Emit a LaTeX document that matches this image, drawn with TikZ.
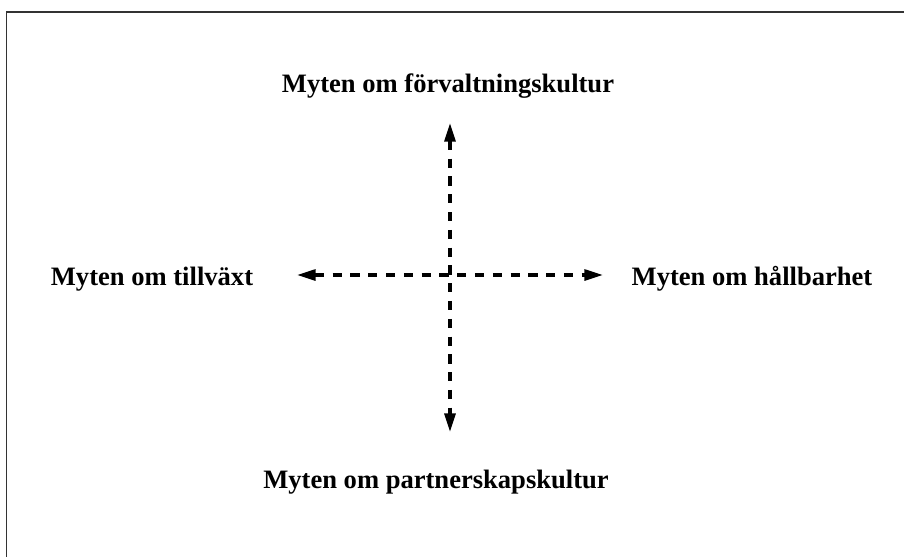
\documentclass[tikz,border=0pt]{standalone}
\usepackage{fontspec}
\setmainfont{Liberation Serif}
\usetikzlibrary{arrows.meta}

\begin{document}
\begin{tikzpicture}[x=0.016cm, y=-0.016cm,
  myth/.style={font=\fontsize{12.1}{14}\selectfont\bfseries, anchor=base, inner sep=0pt},
  arr/.style={{Triangle[length=8.5pt,width=5pt]}-{Triangle[length=8.5pt,width=5pt]},
              line width=1.4pt, dash pattern=on 4.2pt off 3.9pt},
  frame/.style={draw=black!80, line width=0.9pt}]
\useasboundingbox (0,0) rectangle (904,557);
% frame (top and left edge)
\draw[frame] (6.5,557) -- (6.5,12) -- (904,12);
% the four myths
\node[myth] (forv)    at (448,92)  {Myten om förvaltningskultur};
\node[myth] (tillv)   at (152,285) {Myten om tillväxt};
\node[myth] (hallb)   at (752,285) {Myten om hållbarhet};
\node[myth] (partner) at (436,488) {Myten om partnerskapskultur};
% arrow ends
\coordinate (w) at (297,275);
\coordinate (e) at (603,275);
\coordinate (n) at (450,123);
\coordinate (s) at (450,432);
\draw[arr] (w) -- (e);
\draw[arr] (n) -- (s);
\end{tikzpicture}
\end{document}
